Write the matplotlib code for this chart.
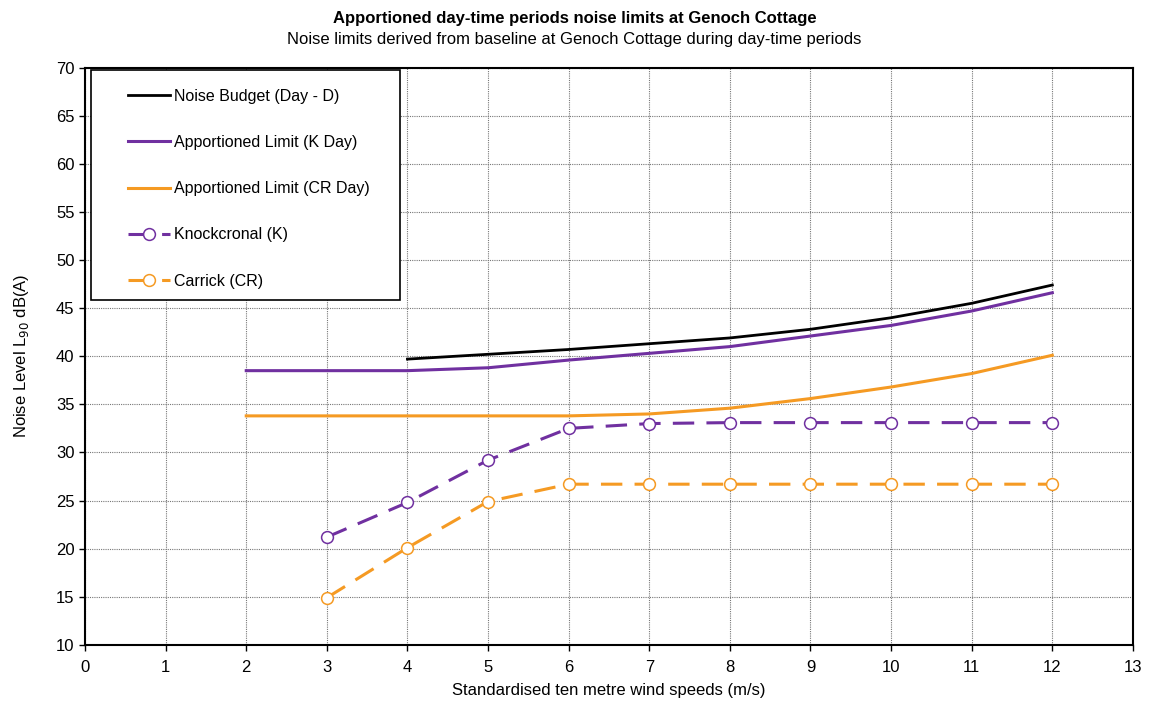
"""Apportioned day-time noise limits at Genoch Cottage."""

import matplotlib

matplotlib.use("Agg")
import matplotlib.pyplot as plt
from matplotlib.patches import Rectangle

plt.rcParams["font.family"] = ["Liberation Sans", "DejaVu Sans"]

PURPLE = "#7030A0"
ORANGE = "#F59A23"

# wind speeds (m/s)
wind_budget = [4, 5, 6, 7, 8, 9, 10, 11, 12]
noise_budget = [39.7, 40.2, 40.7, 41.3, 41.9, 42.8, 44.0, 45.5, 47.4]

wind_limits = [2, 3, 4, 5, 6, 7, 8, 9, 10, 11, 12]
limit_k_day = [38.5, 38.5, 38.5, 38.8, 39.6, 40.3, 41.0, 42.1, 43.2, 44.7, 46.6]
limit_cr_day = [33.8, 33.8, 33.8, 33.8, 33.8, 34.0, 34.6, 35.6, 36.8, 38.2, 40.1]

wind_turbines = [3, 4, 5, 6, 7, 8, 9, 10, 11, 12]
knockcronal = [21.2, 24.8, 29.2, 32.5, 33.0, 33.1, 33.1, 33.1, 33.1, 33.1]
carrick = [14.9, 20.1, 24.9, 26.7, 26.7, 26.7, 26.7, 26.7, 26.7, 26.7]

fig = plt.figure(figsize=(11.49, 7.04), dpi=100)
ax = fig.add_axes([0.074, 0.084, 0.912, 0.82])

ax.plot(wind_budget, noise_budget, color="black", lw=2, label="Noise Budget (Day - D)")
ax.plot(wind_limits, limit_k_day, color=PURPLE, lw=2.2, label="Apportioned Limit (K Day)")
ax.plot(wind_limits, limit_cr_day, color=ORANGE, lw=2.2, label="Apportioned Limit (CR Day)")
ax.plot(wind_turbines, knockcronal, color=PURPLE, lw=2.2, dashes=(7, 4),
        marker="o", ms=8.5, mfc="white", mec=PURPLE, mew=1.1, label="Knockcronal (K)")
ax.plot(wind_turbines, carrick, color=ORANGE, lw=2.2, dashes=(7, 4),
        marker="o", ms=8.5, mfc="white", mec=ORANGE, mew=1.1, label="Carrick (CR)")

ax.set_xlim(0, 13)
ax.set_ylim(10, 70)
ax.set_xticks(range(0, 14))
ax.set_yticks(range(10, 71, 5))
ax.tick_params(labelsize=12, direction="out", length=4, width=1)
ax.tick_params(axis="x", pad=7)
ax.grid(True, color="#777777", linestyle=(0, (1, 1)), linewidth=0.8)
for s in ax.spines.values():
    s.set_linewidth(1.5)
    s.set_color("black")

ax.set_xlabel("Standardised ten metre wind speeds (m/s)", fontsize=12, labelpad=6)
ax.set_ylabel("Noise Level L$_{90}$ dB(A)", fontsize=12, labelpad=18)

fig.text(0.5, 0.967, "Apportioned day-time periods noise limits at Genoch Cottage",
         ha="center", fontsize=12, fontweight="bold")
fig.text(0.5, 0.938, "Noise limits derived from baseline at Genoch Cottage during day-time periods",
         ha="center", fontsize=12)

# legend frame drawn separately so the entries can sit inset from it
ax.add_patch(Rectangle((0.0057, 0.598), 0.295, 0.397, transform=ax.transAxes,
                       facecolor="white", edgecolor="black", lw=1.2, zorder=4))
leg = ax.legend(loc="upper left", bbox_to_anchor=(0.041, 0.963),
                fontsize=11.5, labelspacing=1.95, handlelength=2.6, handletextpad=0.25,
                borderpad=0, borderaxespad=0, frameon=False)
leg.set_zorder(5)

fig.savefig("out.png", dpi=100)
